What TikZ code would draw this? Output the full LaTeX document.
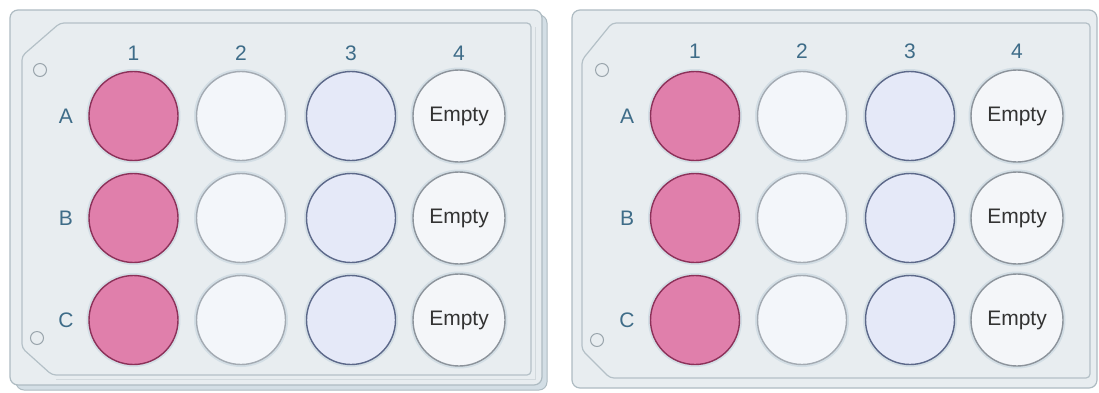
\documentclass[tikz,border=0pt]{standalone}
\usepackage{fontspec}
\setmainfont{Liberation Sans}
\definecolor{platefill}{HTML}{E8EDF0}
\definecolor{plateedge}{HTML}{AEBBC2}
\definecolor{inneredge}{HTML}{B4C0C7}
\definecolor{halo}{HTML}{D3DEE5}
\definecolor{pinkfill}{HTML}{E07FAB}
\definecolor{pinkedge}{HTML}{8C3159}
\definecolor{whitefill}{HTML}{F3F6FA}
\definecolor{whiteedge}{HTML}{A3AAB2}
\definecolor{bluefill}{HTML}{E5E9F8}
\definecolor{blueedge}{HTML}{5C6889}
\definecolor{emptyfill}{HTML}{F4F6F9}
\definecolor{emptyedge}{HTML}{8C939B}
\definecolor{labcol}{HTML}{3E6C88}
\definecolor{holeedge}{HTML}{9AA5AC}
\tikzset{
  plate/.style={draw=plateedge, fill=platefill, line width=1.2pt, rounded corners=8pt},
  backplate/.style={draw=plateedge, fill=halo, line width=1pt, rounded corners=8pt},
  innerb/.style={draw=inneredge, line width=1.2pt, rounded corners=4pt},
  well/.style={circle, minimum size=89pt, inner sep=0pt, line width=1.4pt,
    preaction={draw=halo, line width=5pt}},
  pinkw/.style={well, fill=pinkfill, draw=pinkedge},
  whitew/.style={well, fill=whitefill, draw=whiteedge},
  bluew/.style={well, fill=bluefill, draw=blueedge},
  emptyw/.style={well, minimum size=92pt, fill=emptyfill, draw=emptyedge, text=black!80,
    font=\fontsize{21}{21}\selectfont},
  lab/.style={text=labcol, font=\fontsize{21}{21}\selectfont, inner sep=0pt},
  hole/.style={circle, draw=holeedge, line width=1pt, minimum size=13pt, inner sep=0pt}
}
\begin{document}
\begin{tikzpicture}[x=1pt,y=-1pt]
\useasboundingbox (0,0) rectangle (1099,392);
\fill[white] (0,0) rectangle (1099,392);
% ---------- left plate ----------
\draw[backplate] (16,15) rectangle (547,390);
\draw[plate] (10,10) rectangle (542,385);
\draw[innerb] (22,56) -- (60,23) -- (531,23) -- (531,375) -- (52,375) -- (22,348) -- cycle;
\draw[draw=inneredge!60, line width=0.8pt] (535,27) -- (535,379) -- (56,379);
\node[hole] (lh1) at (40,70) {};
\node[hole] (lh2) at (37,338) {};
\foreach \c/\x in {1/133.5,2/241,3/351,4/459}{
  \node[lab] (lc\c) at (\x,53) {\c};
}
\foreach \r/\y in {A/116,B/218,C/320}{
  \node[lab] (lr\r) at (66,\y) {\r};
  \node[pinkw]  (l\r1) at (133.5,\y) {};
  \node[whitew] (l\r2) at (241,\y) {};
  \node[bluew]  (l\r3) at (351,\y) {};
  \node[emptyw] (l\r4) at (459,\y) {Empty};
}
% ---------- right plate ----------
\draw[plate] (572,10) rectangle (1097,388);
\draw[innerb] (582,60) -- (612,23) -- (1090,23) -- (1090,378) -- (610,378) -- (582,350) -- cycle;
\node[hole] (rh1) at (602,70) {};
\node[hole] (rh2) at (597,340) {};
\foreach \c/\x in {1/695,2/802,3/910,4/1017}{
  \node[lab] (rc\c) at (\x,51) {\c};
}
\foreach \r/\y in {A/116,B/218,C/320}{
  \node[lab] (rr\r) at (627,\y) {\r};
  \node[pinkw]  (r\r1) at (695,\y) {};
  \node[whitew] (r\r2) at (802,\y) {};
  \node[bluew]  (r\r3) at (910,\y) {};
  \node[emptyw] (r\r4) at (1017,\y) {Empty};
}
\end{tikzpicture}
\end{document}
